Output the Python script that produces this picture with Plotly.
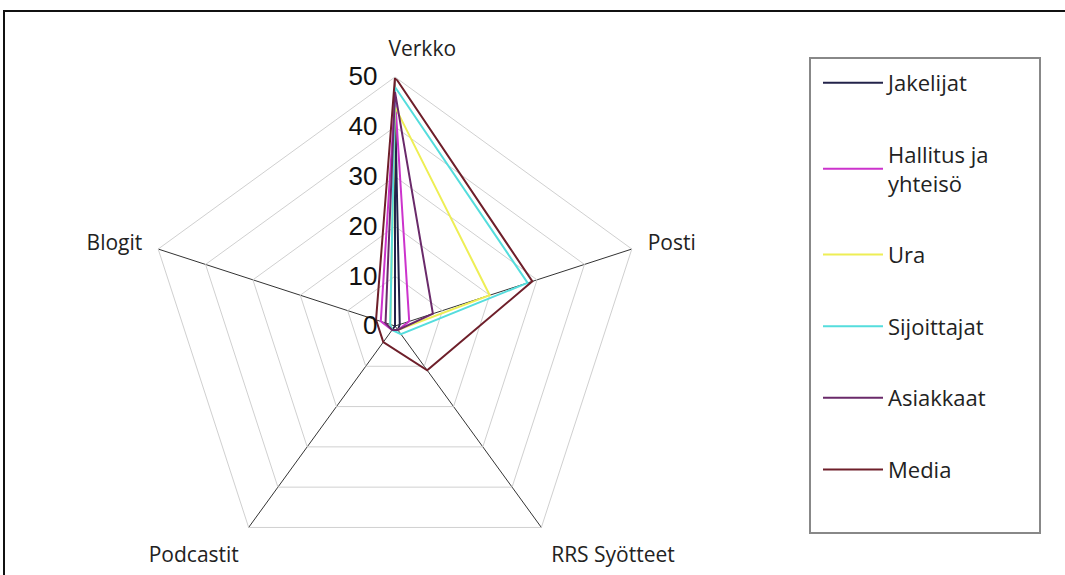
import plotly.graph_objects as go

categories = ["Verkko", "Posti", "RRS Syötteet", "Podcastit", "Blogit"]
series_names = ["Jakelijat", "Hallitus ja<br>yhteisö", "Ura", "Sijoittajat", "Asiakkaat", "Media"]
jakelijat = [45, 1, 1, 1, 0]
hallitus = [46, 3, 1, 1, 3]
ura = [44, 20, 1, 1, 1]
sijoittajat = [48, 28, 2, 1, 1]
asiakkaat = [47, 8, 1, 1, 2]
media = [50, 29, 11, 4, 4]
radial_ticks = [0, 10, 20, 30, 40, 50]

series_values = [jakelijat, hallitus, ura, sijoittajat, asiakkaat, media]
colors = ["#23234A", "#CC33CC", "#EEEE55", "#55DDDD", "#6A2A6A", "#6E1F2A"]

W, H = 1065, 575
cx, cy, R = 395, 326, 249

NB = "\u00a0"
angular_ticktext = [NB * 10 + "Verkko", "Posti", "RRS Syötteet", "Podcastit", "Blogit"]

fig = go.Figure()
for i, (name, vals, col) in enumerate(zip(series_names, series_values, colors)):
    fig.add_trace(go.Scatterpolar(
        r=vals + vals[:1],
        theta=categories + categories[:1],
        mode="lines",
        name=name,
        legendgroup=str(i),
        line=dict(color=col, width=2),
    ))

fig.update_layout(
    width=W, height=H,
    margin=dict(l=0, r=0, t=0, b=0),
    paper_bgcolor="white",
    plot_bgcolor="white",
    showlegend=True,
    polar=dict(
        domain=dict(x=[(cx - R) / W, (cx + R) / W],
                    y=[max(0, (H - cy - R) / H), (H - cy + R) / H]),
        bgcolor="white",
        gridshape="linear",
        radialaxis=dict(
            range=[0, 50],
            tickvals=radial_ticks,
            angle=90,
            tickangle=90,
            side="counterclockwise",
            showline=False,
            ticks="outside",
            ticklen=8,
            tickcolor="rgba(0,0,0,0)",
            gridcolor="#d0d0d0",
            gridwidth=1,
            tickfont=dict(family="Liberation Sans, Arial", size=26, color="#111"),
        ),
        angularaxis=dict(
            direction="clockwise",
            rotation=90,
            tickvals=categories,
            ticktext=angular_ticktext,
            gridcolor="#333333",
            gridwidth=1,
            linecolor="#d0d0d0",
            linewidth=1,
            ticks="outside",
            ticklen=12,
            tickcolor="rgba(0,0,0,0)",
            tickfont=dict(family="Open Sans", size=21, color="#222"),
        ),
    ),
    legend=dict(
        x=818 / W, xanchor="left",
        y=1 - 62 / H, yanchor="top",
        font=dict(family="Open Sans", size=22, color="#222"),
        bgcolor="rgba(0,0,0,0)",
        borderwidth=0,
        tracegroupgap=40,
        itemwidth=60,
    ),
    shapes=[
        dict(type="rect", xref="paper", yref="paper",
             x0=4 / W, x1=1.02, y0=-0.02, y1=1 - 11 / H,
             line=dict(color="#111", width=2), layer="below"),
        dict(type="rect", xref="paper", yref="paper",
             x0=810 / W, x1=1040 / W, y0=1 - 533 / H, y1=1 - 58 / H,
             line=dict(color="#888", width=2)),
    ],
)

fig.write_html("out.html", config={"displayModeBar": False},
               post_script="document.body.style.margin='0';document.body.style.overflow='hidden';")
